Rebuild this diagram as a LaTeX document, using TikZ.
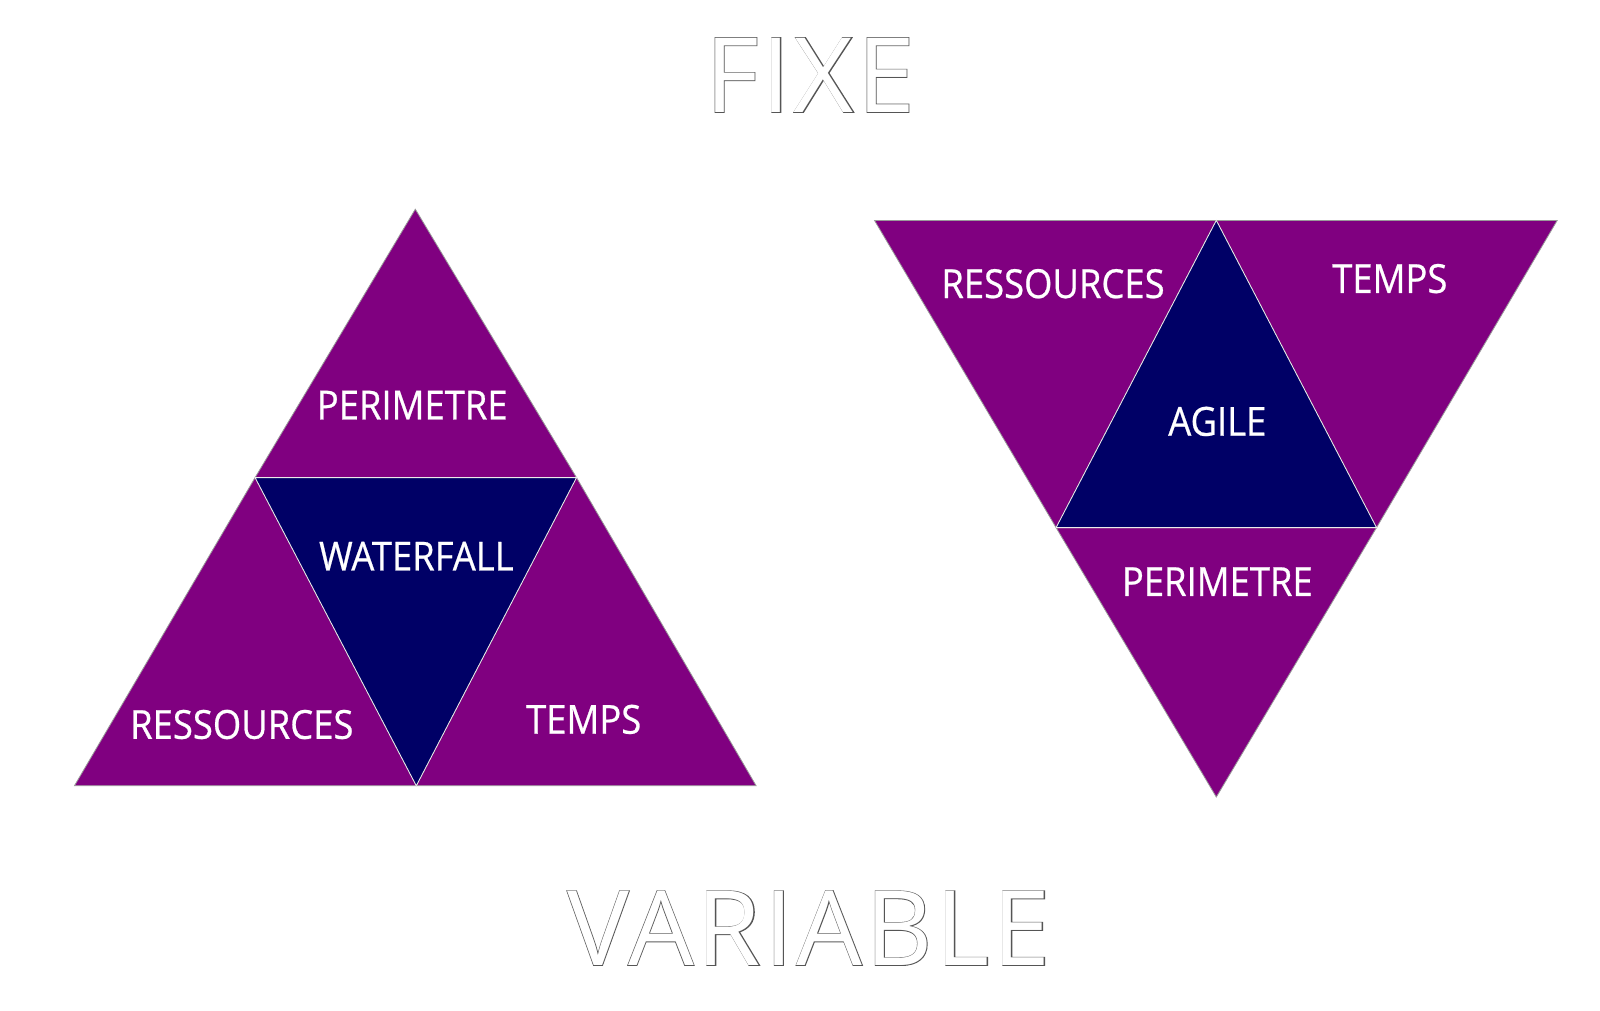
\documentclass[tikz,border=0pt]{standalone}
\usepackage{fontspec}
\setmainfont{Open Sans}
\definecolor{triPurple}{HTML}{800080}
\definecolor{triNavy}{HTML}{000066}
\definecolor{edgeGrey}{HTML}{9A9A9A}
\definecolor{outlineGrey}{HTML}{555555}
% label face, slightly condensed and heavier
\newfontfamily\labelface[FakeStretch=0.91,FakeBold=0.6]{Open Sans}
% heading faces: a heavier grey layer under a white layer gives hollow letters
\newfontfamily\headrim[LetterSpace=3,FakeBold=1.3]{Open Sans}
\newfontfamily\headcore[LetterSpace=3]{Open Sans}
\begin{document}
\begin{tikzpicture}[x=1pt,y=-1pt,
  sidetri/.style={fill=triPurple,draw=edgeGrey,line width=0.8pt,line join=miter},
  coretri/.style={fill=triNavy,draw=white!92!black,line width=0.8pt},
  lbl/.style={text=white,font=\labelface\fontsize{40}{40}\selectfont,inner sep=0pt},
  rim/.style={text=outlineGrey,font=\headrim\fontsize{104}{104}\selectfont,inner sep=0pt},
  core/.style={text=white,font=\headcore\fontsize{104}{104}\selectfont,inner sep=0pt}]
\useasboundingbox[fill=white] (0,0) rectangle (1600,1010);

% waterfall triangle (apex up)
\coordinate (wA) at (415.3,209.2);
\coordinate (wL) at (74.5,785.7);
\coordinate (wR) at (756.1,785.7);
\coordinate (wML) at (255.1,477.6);
\coordinate (wMR) at (576.5,477.6);
\coordinate (wB) at (416.3,785.7);
\draw[sidetri] (wA) -- (wMR) -- (wML) -- cycle;
\draw[sidetri] (wML) -- (wB) -- (wL) -- cycle;
\draw[sidetri] (wMR) -- (wR) -- (wB) -- cycle;
\draw[coretri] (wML) -- (wMR) -- (wB) -- cycle;

% agile triangle (apex down)
\coordinate (aL) at (874.5,220.4);
\coordinate (aR) at (1557.2,220.4);
\coordinate (aT) at (1216.3,220.4);
\coordinate (aML) at (1056.1,527.6);
\coordinate (aMR) at (1376.5,527.6);
\coordinate (aB) at (1216.3,797.0);
\draw[sidetri] (aL) -- (aT) -- (aML) -- cycle;
\draw[sidetri] (aT) -- (aR) -- (aMR) -- cycle;
\draw[sidetri] (aML) -- (aMR) -- (aB) -- cycle;
\draw[coretri] (aT) -- (aMR) -- (aML) -- cycle;

% labels
\node[lbl] (wPer) at (412.2,405.1) {PERIMETRE};
\node[lbl] (wCore) at (416.3,556.1) {WATERFALL};
\node[lbl] (wRes) at (241.8,724.5) {RESSOURCES};
\node[lbl] (wTem) at (583.7,719.4) {TEMPS};
\node[lbl] (aRes) at (1053.0,283.7) {RESSOURCES};
\node[lbl] (aTem) at (1389.8,278.6) {TEMPS};
\node[lbl] (aCore) at (1217.3,421.4) {AGILE};
\node[lbl] (aPer) at (1217.3,581.6) {PERIMETRE};

% headings
\node[rim] (fixeRim) at (810,75) {FIXE};
\node[core] (fixe) at (fixeRim.center) {FIXE};
\node[rim] (varRim) at (809,928) {VARIABLE};
\node[core] (var) at (varRim.center) {VARIABLE};
\end{tikzpicture}
\end{document}
